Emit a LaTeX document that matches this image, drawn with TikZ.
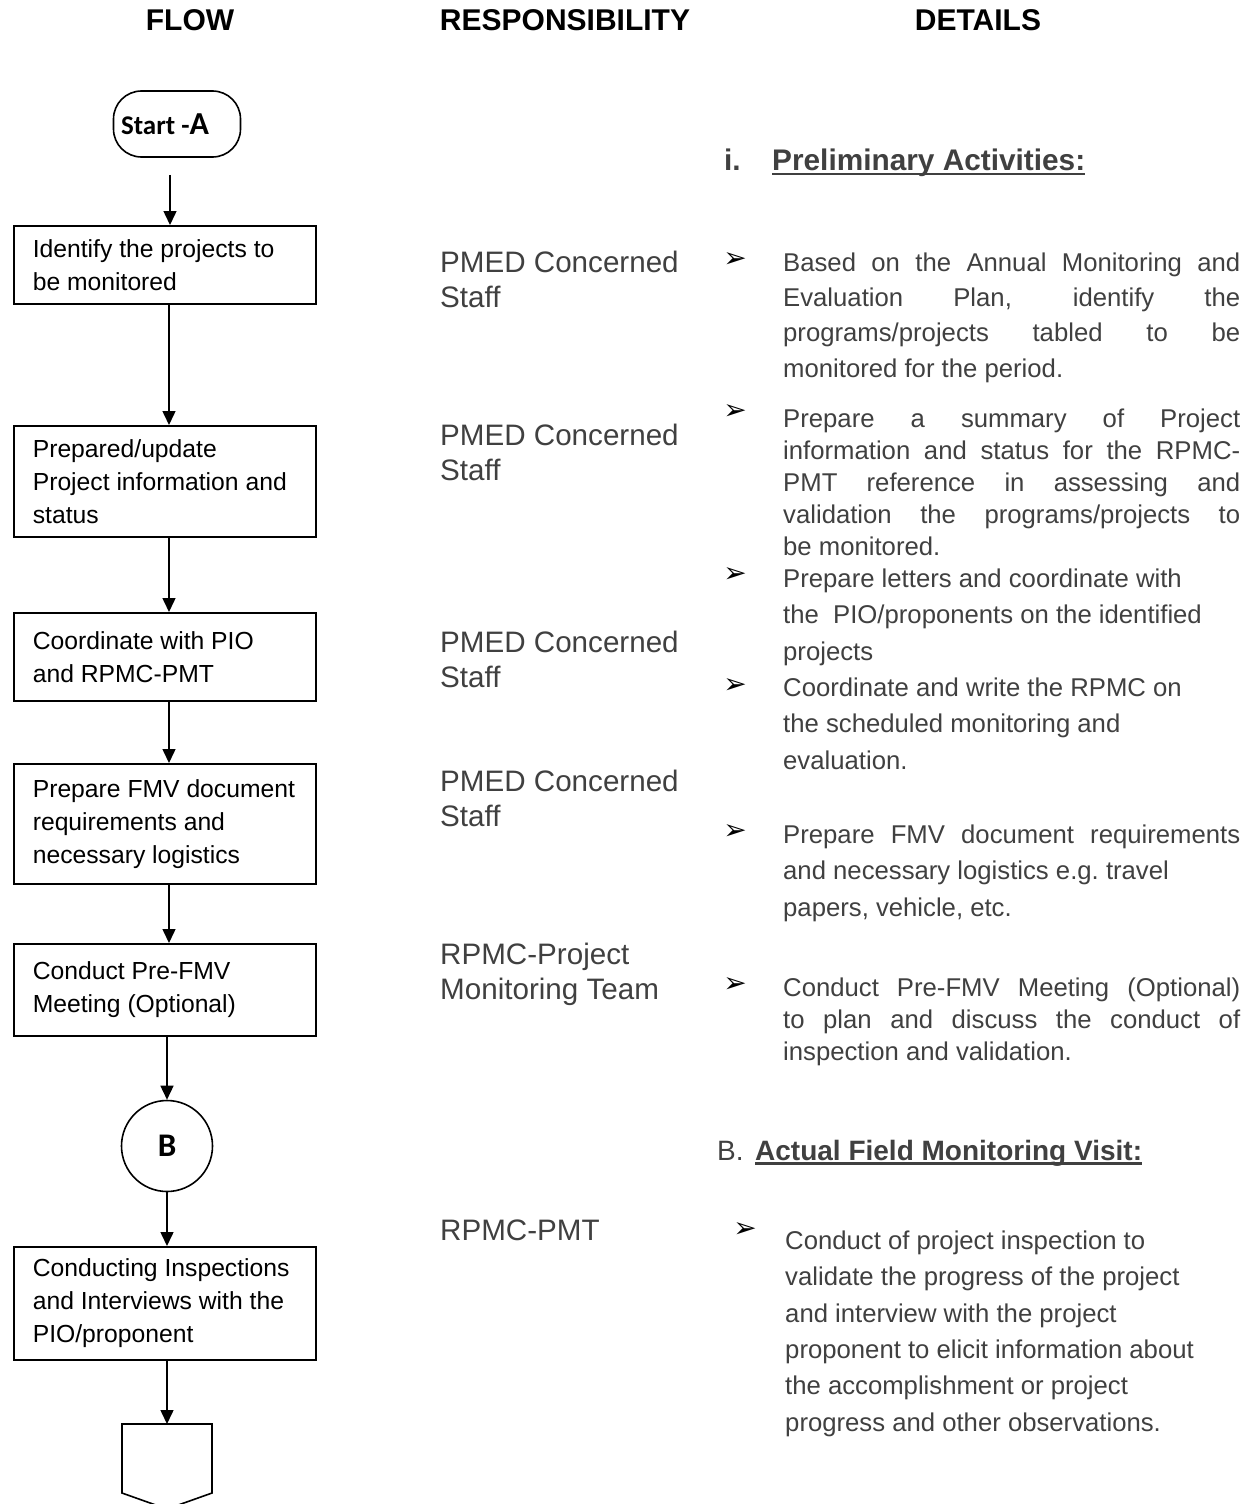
\documentclass[tikz,border=0pt]{standalone}
\usepackage{fontspec}
\setmainfont{Liberation Sans}
\newfontfamily\calib{Carlito}
\newfontfamily\dejavu{DejaVu Sans}
\usetikzlibrary{arrows.meta}
\definecolor{txtgray}{HTML}{404040}
\newcommand{\jl}[1]{{\spaceskip=0pt\xspaceskip=0pt\makebox[457pt][s]{#1}}}
\begin{document}
\begin{tikzpicture}[x=1pt,y=-1pt,
  flowbox/.style={draw, line width=1.6pt, rectangle, text width=264pt, inner xsep=19pt, inner ysep=0pt, align=flush left, font=\fontsize{24.7}{33}\selectfont, anchor=north west},
  arr/.style={-{Triangle[length=14pt,width=13pt]}, line width=1.5pt},
  hdr/.style={font=\bfseries\fontsize{30}{32}\selectfont, text=black, inner sep=0pt},
  resp/.style={font=\fontsize{29.6}{35}\selectfont, text=txtgray, align=flush left, anchor=north west, inner sep=0pt},
  detj/.style={font=\fontsize{25.7}{32}\selectfont, text=txtgray, text width=470pt, align=flush left, anchor=north west, inner sep=0pt},
  detr/.style={font=\fontsize{25.7}{36.4}\selectfont, text=txtgray, text width=470pt, align=flush left, anchor=north west, inner sep=0pt},
  bul/.style={font=\dejavu\fontsize{28}{30}\selectfont, text=black, inner sep=0pt},
  sec/.style={text=txtgray, inner sep=0pt, anchor=base west},
  ul/.style={line width=2.6pt, txtgray},
]
\path[fill=white] (0,0) rectangle (1260,1504);
\useasboundingbox (0,0) rectangle (1260,1504);

% column headers
\node[hdr] (hflow) at (190,20) {FLOW};
\node[hdr] (hresp) at (565,20) {RESPONSIBILITY};
\node[hdr] (hdet) at (978,20) {DETAILS};

% flow column
\node[draw, line width=1.6pt, rounded corners=28pt, minimum width=127pt, minimum height=66pt, inner sep=0pt, font=\calib\bfseries] (start) at (177,124)
  {{\fontsize{27}{30}\selectfont Start -}{\fontsize{32}{30}\selectfont A}\kern24pt};
\node[flowbox, minimum height=78pt] (b1) at (13,225) {Identify the projects to\\be monitored};
\node[flowbox, minimum height=111pt] (b2) at (13,425) {Prepared/update\\Project information and\\status};
\node[flowbox, minimum height=88pt] (b3) at (13,612) {Coordinate with PIO\\and RPMC-PMT};
\node[flowbox, minimum height=120pt] (b4) at (13,763) {Prepare FMV document\\requirements and\\necessary logistics};
\node[flowbox, minimum height=92pt] (b5) at (13,943) {Conduct Pre-FMV\\Meeting (Optional)};
\node[draw, line width=1.6pt, circle, minimum size=91pt, inner sep=0pt, font=\calib\bfseries\fontsize{33}{34}\selectfont] (cb) at (167,1146) {B};
\node[flowbox, minimum height=113pt] (b6) at (13,1246) {Conducting Inspections\\and Interviews with the\\PIO/proponent};
\draw[line width=1.6pt] (122,1424) -- (212,1424) -- (212,1493) -- (167,1509) -- (122,1493) -- cycle;
\coordinate (pin) at (167,1424);

\coordinate (sx) at (170,0);
\coordinate (ax) at (169,0);
\draw[arr, shorten <=17pt] (start.south -| sx) -- (b1.north -| sx);
\draw[arr] (b1.south -| ax) -- (b2.north -| ax);
\draw[arr] (b2.south -| ax) -- (b3.north -| ax);
\draw[arr] (b3.south -| ax) -- (b4.north -| ax);
\draw[arr] (b4.south -| ax) -- (b5.north -| ax);
\draw[arr] (b5.south -| cb.north) -- (cb.north);
\draw[arr] (cb.south) -- (b6.north -| cb.south);
\draw[arr] (b6.south -| pin) -- (pin);

% responsibility column
\node[resp] (r1) at (440,251) {PMED Concerned\\Staff};
\node[resp] (r2) at (440,424) {PMED Concerned\\Staff};
\node[resp] (r3) at (440,631) {PMED Concerned\\Staff};
\node[resp] (r4) at (440,770) {PMED Concerned\\Staff};
\node[resp] (r5) at (440,943) {RPMC-Project\\Monitoring Team};
\node[resp] (r6) at (440,1220) {RPMC-PMT};

% details column
\node[sec, font=\bfseries\fontsize{29.8}{32}\selectfont] (s1n) at (724,170.5) {i.};
\node[sec, font=\bfseries\fontsize{29.8}{32}\selectfont] (s1t) at (772,170.5) {Preliminary Activities:};
\draw[ul] ([yshift=-3.5pt]s1t.base west) -- ([yshift=-3.5pt]s1t.base east);

\node[bul] (u1) at (735,260) {➢};
\node[detj, font=\fontsize{25.7}{35.3}\selectfont] (d1) at (783,252.5) {\jl{Based on the Annual Monitoring and}\\
\jl{Evaluation Plan, identify the}\\
\jl{programs/projects tabled to be}\\
monitored for the period.};

\node[bul] (u2) at (735,412) {➢};
\node[detj] (d2) at (783,409) {\jl{Prepare a summary of Project}\\
\jl{information and status for the RPMC-}\\
\jl{PMT reference in assessing and}\\
\jl{validation the programs/projects to}\\
be monitored.};

\node[bul] (u3) at (735,575) {➢};
\node[detr] (d3) at (783,568.5) {Prepare letters and coordinate with\\the~~PIO/proponents on the identified\\projects};

\node[bul] (u4) at (735,686) {➢};
\node[detr] (d4) at (783,677.5) {Coordinate and write the RPMC on\\the scheduled monitoring and\\evaluation.};

\node[bul] (u5) at (735,832) {➢};
\node[detr] (d5) at (783,824.5) {\jl{Prepare FMV document requirements}\\and necessary logistics e.g.\ travel\\papers, vehicle, etc.};

\node[bul] (u6) at (735,985) {➢};
\node[detj] (d6) at (783,977.5) {\jl{Conduct Pre-FMV Meeting (Optional)}\\
\jl{to plan and discuss the conduct of}\\
inspection and validation.};

\node[sec, font=\fontsize{28}{32}\selectfont] (s2n) at (717,1160) {B.};
\node[sec, font=\bfseries\fontsize{28}{32}\selectfont] (s2t) at (755,1160) {Actual Field Monitoring Visit:};
\draw[ul] ([yshift=-3.5pt]s2t.base west) -- ([yshift=-3.5pt]s2t.base east);

\node[bul] (u7) at (745,1230) {➢};
\node[detr] (d7) at (785,1230.5) {Conduct of project inspection to\\validate the progress of the project\\and interview with the project\\proponent to elicit information about\\the accomplishment or project\\progress and other observations.};
\end{tikzpicture}
\end{document}
